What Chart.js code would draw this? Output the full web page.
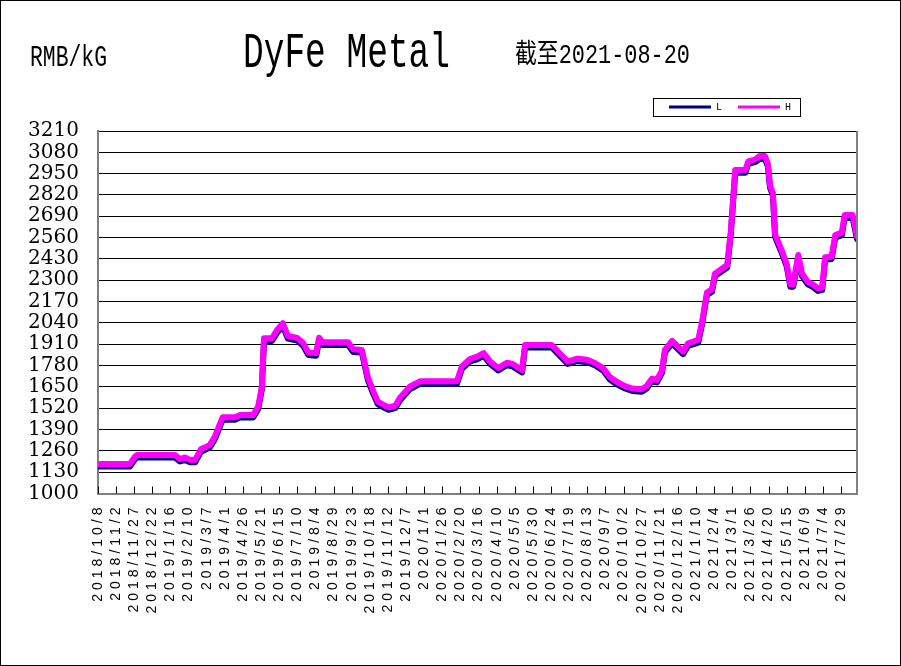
<!DOCTYPE html>
<html><head><meta charset="utf-8">
<script src="https://cdn.jsdelivr.net/npm/chart.js@4.4.1/dist/chart.umd.min.js"></script>
<style>
html,body{margin:0;padding:0;background:#fff;}
#wrap{position:relative;width:901px;height:666px;overflow:hidden;background:#fff;}
#c{position:absolute;left:0;top:0;}
.hdr{position:absolute;white-space:nowrap;transform-origin:0 0;font-family:"Liberation Mono","Noto Sans CJK SC",monospace;color:#000;line-height:1;}
#unit{left:30px;top:44px;font-size:29px;}
#title{left:243px;top:29px;font-size:50px;}
#asof{left:515px;top:43px;font-size:27px;}
#frame{position:absolute;left:0;top:0;width:901px;height:666px;box-sizing:border-box;border:1px solid #000;pointer-events:none;}
</style></head><body>
<div id="wrap">
<canvas id="c" width="901" height="666"></canvas>
<div class="hdr" id="unit" data-w="77">RMB/kG</div>
<div class="hdr" id="title" data-w="207">DyFe Metal</div>
<div class="hdr" id="asof" data-w="175">截至2021-08-20</div>
<div id="frame"></div>
</div>
<script>
// ---- data ----
const dates = ['2018/10/8','2018/11/21','2018/11/28','2018/12/1','2019/1/22','2019/1/29','2019/2/5','2019/2/12','2019/2/19','2019/2/27',
'2019/3/11','2019/3/18','2019/3/29','2019/4/15','2019/4/22','2019/5/10','2019/5/17','2019/5/22','2019/5/25','2019/6/5',
'2019/6/12','2019/6/20','2019/6/27','2019/7/10','2019/7/18','2019/7/25','2019/8/5','2019/8/9','2019/8/14','2019/9/18',
'2019/9/25','2019/10/7','2019/10/15','2019/10/22','2019/10/29','2019/11/8','2019/11/13','2019/11/22','2019/11/29','2019/12/12',
'2019/12/26','2020/2/15','2020/2/22','2020/3/4','2020/3/14','2020/3/23','2020/4/1','2020/4/12','2020/4/24','2020/5/2',
'2020/5/15','2020/5/19','2020/6/25','2020/7/6','2020/7/17','2020/7/30','2020/8/13','2020/8/24','2020/9/4','2020/9/13',
'2020/9/23','2020/10/4','2020/10/14','2020/10/27','2020/11/3','2020/11/10','2020/11/17','2020/11/24','2020/11/28','2020/12/8',
'2020/12/15','2020/12/23','2020/12/30','2021/1/13','2021/1/18','2021/1/25','2021/2/1','2021/2/5','2021/2/22','2021/2/27',
'2021/3/5','2021/3/19','2021/3/23','2021/4/1','2021/4/8','2021/4/15','2021/4/19','2021/4/22','2021/4/26','2021/4/29',
'2021/5/7','2021/5/15','2021/5/20','2021/5/24','2021/5/31','2021/6/5','2021/6/13','2021/6/20','2021/6/27','2021/7/3',
'2021/7/7','2021/7/16','2021/7/21','2021/7/30','2021/8/3','2021/8/14','2021/8/20'];
const highPrices = [1180,1180,1225,1235,1235,1210,1220,1205,1205,1270,
1295,1345,1465,1465,1478,1478,1530,1650,1946,1946,
1997,2038,1960,1948,1917,1860,1856,1950,1922,1922,
1879,1875,1712,1631,1560,1535,1525,1535,1586,1651,
1684,1684,1775,1820,1834,1856,1804,1765,1797,1790,
1753,1905,1905,1855,1804,1822,1815,1794,1763,1710,
1680,1655,1640,1635,1655,1700,1692,1750,1875,1930,
1900,1865,1916,1936,2040,2225,2245,2340,2393,2600,
2972,2972,3025,3035,3058,3058,3010,2880,2830,2580,
2495,2400,2275,2275,2454,2342,2291,2275,2251,2255,
2440,2444,2576,2590,2698,2698,2566];
const lowPrices = [1165,1165,1210,1220,1220,1195,1205,1190,1190,1255,
1280,1330,1450,1450,1463,1463,1515,1635,1930,1930,
1980,2020,1945,1933,1900,1845,1840,1935,1905,1905,
1863,1860,1697,1615,1545,1520,1510,1520,1570,1635,
1668,1668,1760,1805,1818,1840,1790,1750,1782,1775,
1738,1890,1890,1840,1790,1807,1800,1780,1748,1695,
1665,1640,1625,1620,1640,1685,1677,1735,1860,1915,
1885,1850,1900,1920,2025,2210,2230,2325,2378,2585,
2955,2955,3010,3020,3040,3040,2995,2865,2815,2565,
2480,2385,2260,2260,2440,2327,2275,2260,2235,2240,
2425,2430,2560,2575,2680,2680,2550];
const tickDates = ['2018/10/8','2018/11/2','2018/11/27','2018/12/22','2019/1/16','2019/2/10','2019/3/7','2019/4/1','2019/4/26','2019/5/21',
'2019/6/15','2019/7/10','2019/8/4','2019/8/29','2019/9/23','2019/10/18','2019/11/12','2019/12/7','2020/1/1','2020/1/26',
'2020/2/20','2020/3/16','2020/4/10','2020/5/5','2020/5/30','2020/6/24','2020/7/19','2020/8/13','2020/9/7','2020/10/2',
'2020/10/27','2020/11/21','2020/12/16','2021/1/10','2021/2/4','2021/3/1','2021/3/26','2021/4/20','2021/5/15','2021/6/9',
'2021/7/4','2021/7/29'];
const yMin = 1000, yMax = 3210, yStep = 130;
const seriesNames = ['L','H'];
const seriesColors = ['#000080','#FF00FF'];

// ---- helpers ----
function dayOf(s){const p=s.split('/').map(Number);return Math.round((Date.UTC(p[0],p[1]-1,p[2])-Date.UTC(2018,9,8))/86400000);}
const xs = dates.map(dayOf);
const tickDays = tickDates.map(dayOf);

const decor = {
  id:'decor',
  afterLayout(chart){
    const lg = chart.legend, ca = chart.chartArea;
    const w = lg.right - lg.left;
    lg.left = ca.right - 204; lg.right = lg.left + w;
    const h = lg.bottom - lg.top;
    lg.top = ca.top - 45; lg.bottom = lg.top + h;
    const sx = chart.scales.x;
    if(!sx._spaced){
      const orig = sx.drawLabels.bind(sx);
      sx.drawLabels = function(area){const c=chart.ctx;c.save();c.letterSpacing='4px';orig(area);c.restore();};
      sx._spaced = true;
    }
  },
  afterDraw(chart){
    const c = chart.ctx, ca = chart.chartArea, sx = chart.scales.x;
    c.save();
    c.strokeStyle='#000'; c.lineWidth=1;
    sx.ticks.forEach(t=>{const px=Math.round(sx.getPixelForValue(t.value))+0.5;c.beginPath();c.moveTo(px,ca.bottom);c.lineTo(px,ca.bottom-7);c.stroke();});
    c.strokeStyle='#808080'; c.lineWidth=2;
    c.beginPath(); c.moveTo(ca.right,ca.top); c.lineTo(ca.right,ca.bottom+1); c.stroke();
    const hb = chart.legend.legendHitBoxes;
    if(hb && hb.length){
      const l = hb[0].left-16, r = hb[hb.length-1].left+hb[hb.length-1].width+9;
      const cy = hb[0].top + hb[0].height/2;
      c.strokeStyle='#000'; c.lineWidth=1;
      c.strokeRect(Math.round(l)+0.5, Math.round(cy-9)+0.5, Math.round(r-l), 18);
    }
    c.restore();
  }
};

const mk = (i, vals, order) => ({
  label: seriesNames[i],
  data: xs.map((x,k)=>({x, y: vals[k]})),
  borderColor: seriesColors[i],
  backgroundColor: seriesColors[i],
  borderWidth: 6,
  pointRadius: 0,
  tension: 0,
  borderJoinStyle: 'round',
  borderCapStyle: 'round',
  order
});

new Chart(document.getElementById('c'), {
  type: 'line',
  data: { datasets: [ mk(0, lowPrices, 2), mk(1, highPrices, 1) ] },
  plugins: [decor],
  options: {
    responsive: false,
    animation: false,
    layout: { padding: { top: 95, right: 44, bottom: 0, left: 0 } },
    plugins: {
      tooltip: { enabled: false },
      legend: {
        position: 'top', align: 'start', fullSize: false,
        labels: {
          boxWidth: 42, boxHeight: 3, padding: 16, color: '#000',
          font: { family: 'Liberation Mono', size: 10 },
          sort: (a,b) => a.datasetIndex - b.datasetIndex,
          generateLabels: (chart) => Chart.defaults.plugins.legend.labels.generateLabels(chart)
             .map(l => Object.assign(l, { lineWidth: 0, fillStyle: l.strokeStyle }))
        }
      }
    },
    scales: {
      x: {
        type: 'linear', min: 0, max: xs[xs.length-1],
        afterBuildTicks: (s) => { s.ticks = tickDays.map(v => ({ value: v })); },
        afterFit: (s) => { s.height = 172.5; },
        grid: { display: true, drawOnChartArea: false, drawTicks: false },
        border: { color: '#808080', width: 2 },
        ticks: {
          autoSkip: false, maxRotation: 90, minRotation: 90, padding: 10, color: '#000',
          font: { family: 'Liberation Sans', size: 14 },
          callback: (v, i) => tickDates[i]
        }
      },
      y: {
        min: yMin, max: yMax,
        afterFit: (s) => { s.width = 98; },
        ticks: { stepSize: yStep, autoSkip: false, padding: 19, color: '#000',
                 font: { family: 'DejaVu Serif', size: 20 }, callback: (v) => String(v) },
        grid: { color: (ctx) => ctx.tick && ctx.tick.value === yMin ? 'rgba(0,0,0,0)' : '#000', lineWidth: 1, drawTicks: false },
        border: { color: '#808080', width: 2 }
      }
    }
  }
});

function fitHeaders(){
  document.querySelectorAll('.hdr').forEach(el => {
    el.style.transform = 'none';
    const w = el.getBoundingClientRect().width;
    el.style.transform = 'scaleX(' + (Number(el.dataset.w) / w) + ')';
  });
}
fitHeaders();
if (document.fonts && document.fonts.ready) document.fonts.ready.then(fitHeaders);
</script>
</body></html>
